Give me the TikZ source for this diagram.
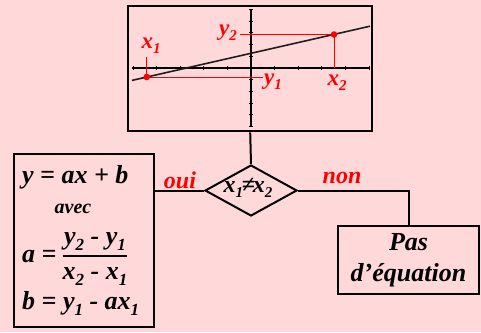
\documentclass[tikz,border=0pt]{standalone}
\usepackage{amsmath}
\usepackage{fontspec}
\setmainfont{Liberation Serif}
\usepackage{xcolor}
\definecolor{bgpink}{RGB}{255,217,217}
\definecolor{labred}{RGB}{255,0,0}
\definecolor{curvegray}{RGB}{30,30,30}
\usetikzlibrary{shapes.geometric, calc}
\newcommand{\lowsub}[1]{\raisebox{-0.5ex}{\fontsize{17}{17}\selectfont #1}}
\newcommand{\graphsub}[1]{\raisebox{-0.5ex}{\fontsize{15}{15}\selectfont #1}}

\begin{document}
\begin{tikzpicture}[x=1pt, y=-1pt,
    bigtxt/.style={font=\fontsize{26}{31}\selectfont\bfseries\itshape, inner sep=0pt},
    frame/.style={draw=black, line width=2.4pt},
    link/.style={draw=black, line width=2pt},
    answer/.style={font=\fontsize{24}{24}\selectfont\bfseries\itshape, text=labred, inner sep=0pt},
    graphlab/.style={font=\fontsize{23}{23}\selectfont\bfseries\itshape, text=labred, inner sep=0pt},
    guide/.style={labred, line width=0.9pt}]

  % Background
  \fill[bgpink] (0,0) rectangle (481,332);
  \useasboundingbox (0,0) rectangle (481,332);

  % Calculator screen
  \node[frame, minimum width=244, minimum height=125, anchor=north west, inner sep=0pt]
        (screen) at (127,5) {};

  % Axes with ticks
  \draw[line width=1.5pt] (132,68) -- (370,68);
  \draw[line width=1.5pt] (251,10) -- (251,127);
  \foreach \i in {-5,...,5}
    \draw[line width=1pt] ({251+\i*23.6},66) -- ({251+\i*23.6},70);
  \foreach \j in {-5,...,5}
    \draw[line width=1pt] (249,{68+\j*11.73}) -- (253,{68+\j*11.73});

  % Straight line through the two points
  \draw[curvegray, line width=1.6pt] (132,80.4) -- (370,26.2);

  % Points and their coordinates
  \coordinate (p1) at (146.7,77);
  \coordinate (p2) at (334,34.5);
  \draw[guide] (p1) -- (146.7,57);
  \draw[guide] (p1) -- (263,77);
  \draw[guide] (p2) -- (240,34.5);
  \draw[guide] (p2) -- (334,68);
  \fill[labred] (p1) circle (3.3);
  \fill[labred] (p2) circle (3.3);

  \node[graphlab] (xone) at (151,46) {x\graphsub{1}};
  \node[graphlab] (ytwo) at (228,33) {y\graphsub{2}};
  \node[graphlab] (yone) at (273,82) {y\graphsub{1}};
  \node[graphlab] (xtwo) at (337,83) {x\graphsub{2}};

  % Test
  \node[draw=black, line width=2pt, shape=diamond, aspect=1.8, inner sep=0pt,
        minimum width=92, minimum height=51] (test) at (251,190.5) {};
  \node[font=\fontsize{24}{24}\selectfont\bfseries\itshape, inner sep=0pt]
        (testtxt) at (248,188) {x\graphsub{1}\kern-1.5pt≠\kern-2pt x\graphsub{2}};

  % Result boxes
  \node[frame, minimum width=140, minimum height=173, anchor=north west, inner sep=0pt]
        (result) at (13,153) {};
  \node[bigtxt, anchor=west] (eqline) at (22,177) {y = ax + b};
  \node[font=\fontsize{20}{20}\selectfont\bfseries\itshape, inner sep=0pt]
        (avec) at (73,209) {avec};
  \node[bigtxt, anchor=west] (eqa) at (22,259)
        {a =\kern5pt$\genfrac{}{}{1.5pt}{0}{\text{y\lowsub{2} - y\lowsub{1}}}{\text{x\lowsub{2} - x\lowsub{1}}}$};
  \node[bigtxt, anchor=west] (eqb) at (22,303) {b = y\lowsub{1} - ax\lowsub{1}};

  \node[frame, bigtxt, minimum width=141, minimum height=68, align=center]
        (nopas) at (408.5,260) {Pas\\d’équation};

  % Connectors
  \draw[link] (screen.south) -- (test.north);
  \draw[link] (test.west) -- (test.west -| result.east);
  \draw[link] (test.east) -| (nopas.north);

  \node[answer] (oui) at (180,180) {oui};
  \node[answer] (non) at (342,178) {non};

\end{tikzpicture}
\end{document}
